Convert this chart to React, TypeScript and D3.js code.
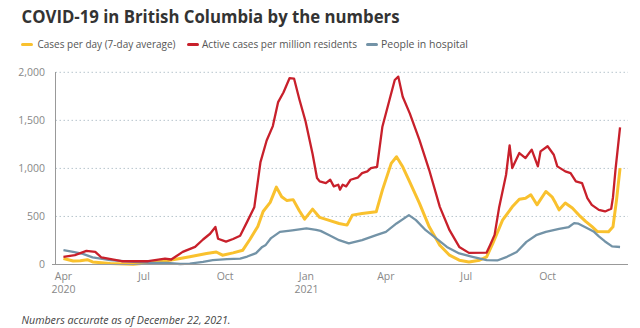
import React from "react";
import * as d3 from "d3";

const casesPerDay: [string, number][] = [
  ["2020-04-01", 62], ["2020-04-12", 36], ["2020-04-20", 40], ["2020-04-28", 50], ["2020-05-04", 27],
  ["2020-05-24", 10], ["2020-06-19", 3], ["2020-07-08", 17], ["2020-07-27", 38], ["2020-08-11", 62],
  ["2020-08-22", 80], ["2020-09-10", 115], ["2020-09-21", 130], ["2020-09-28", 97], ["2020-10-10", 121],
  ["2020-10-21", 149], ["2020-10-29", 260], ["2020-11-07", 396], ["2020-11-13", 552], ["2020-11-21", 646],
  ["2020-11-28", 805], ["2020-12-04", 705], ["2020-12-10", 665], ["2020-12-17", 675], ["2020-12-24", 560],
  ["2020-12-30", 472], ["2021-01-08", 576], ["2021-01-16", 490], ["2021-01-25", 465], ["2021-02-07", 427],
  ["2021-02-16", 410], ["2021-02-22", 514], ["2021-03-05", 531], ["2021-03-21", 548], ["2021-03-28", 774],
  ["2021-04-07", 1052], ["2021-04-13", 1121], ["2021-04-20", 1017], ["2021-04-27", 878], ["2021-05-09", 636],
  ["2021-05-20", 392], ["2021-06-01", 201], ["2021-06-12", 97], ["2021-06-23", 45], ["2021-07-04", 27],
  ["2021-07-16", 45], ["2021-07-24", 80], ["2021-07-31", 219], ["2021-08-11", 462], ["2021-08-22", 600],
  ["2021-08-30", 680], ["2021-09-06", 690], ["2021-09-12", 725], ["2021-09-19", 621], ["2021-09-29", 760],
  ["2021-10-06", 704], ["2021-10-10", 639], ["2021-10-14", 569], ["2021-10-21", 639], ["2021-10-29", 587],
  ["2021-11-07", 500], ["2021-11-13", 448], ["2021-11-20", 396], ["2021-11-26", 344], ["2021-12-09", 340],
  ["2021-12-14", 392], ["2021-12-18", 670], ["2021-12-22", 1003],
];

const activePerMillion: [string, number][] = [
  ["2020-04-01", 80], ["2020-04-14", 97], ["2020-04-27", 142], ["2020-05-07", 131], ["2020-05-14", 73],
  ["2020-06-06", 34], ["2020-07-06", 34], ["2020-07-25", 62], ["2020-08-01", 52], ["2020-08-14", 131],
  ["2020-08-28", 183], ["2020-09-06", 260], ["2020-09-14", 320], ["2020-09-20", 390], ["2020-09-23", 268],
  ["2020-10-02", 238], ["2020-10-10", 265], ["2020-10-18", 300], ["2020-10-26", 446], ["2020-11-03", 595],
  ["2020-11-10", 1065], ["2020-11-17", 1290], ["2020-11-24", 1440], ["2020-11-30", 1690], ["2020-12-06", 1790],
  ["2020-12-13", 1940], ["2020-12-18", 1935], ["2020-12-24", 1720], ["2020-12-31", 1490], ["2021-01-08", 1150],
  ["2021-01-13", 900], ["2021-01-16", 865], ["2021-01-23", 847], ["2021-01-28", 882], ["2021-02-01", 813],
  ["2021-02-06", 830], ["2021-02-08", 778], ["2021-02-11", 830], ["2021-02-15", 813], ["2021-02-20", 882],
  ["2021-02-28", 903], ["2021-03-05", 951], ["2021-03-11", 969], ["2021-03-15", 1003], ["2021-03-22", 1017],
  ["2021-03-28", 1434], ["2021-04-05", 1712], ["2021-04-11", 1920],
  ["2021-04-15", 1955], ["2021-04-20", 1746], ["2021-04-28", 1573], ["2021-05-09", 1295], ["2021-05-20", 983],
  ["2021-06-01", 600], ["2021-06-12", 357], ["2021-06-23", 183], ["2021-07-04", 121], ["2021-07-24", 124],
  ["2021-07-28", 204], ["2021-08-02", 308], ["2021-08-07", 587], ["2021-08-15", 934], ["2021-08-19", 1240],
  ["2021-08-22", 1003], ["2021-08-30", 1160], ["2021-09-06", 1108], ["2021-09-13", 1195], ["2021-09-20", 1021],
  ["2021-09-23", 1177], ["2021-10-01", 1230], ["2021-10-08", 1142], ["2021-10-12", 1021], ["2021-10-21", 969],
  ["2021-10-27", 951], ["2021-11-02", 865], ["2021-11-09", 847], ["2021-11-15", 691], ["2021-11-20", 621],
  ["2021-11-28", 569], ["2021-12-05", 552], ["2021-12-12", 580], ["2021-12-14", 700], ["2021-12-17", 1000],
  ["2021-12-22", 1427],
];

const inHospital: [string, number][] = [
  ["2020-04-01", 149], ["2020-04-12", 131], ["2020-04-23", 110], ["2020-05-04", 75], ["2020-05-24", 45],
  ["2020-06-19", 27], ["2020-07-08", 17], ["2020-07-27", 17], ["2020-08-11", 5], ["2020-08-22", 10],
  ["2020-09-06", 27], ["2020-09-17", 45], ["2020-10-03", 55], ["2020-10-18", 62], ["2020-10-26", 83],
  ["2020-11-05", 118], ["2020-11-12", 183], ["2020-11-16", 204], ["2020-11-22", 275], ["2020-12-02", 340],
  ["2020-12-16", 355], ["2021-01-01", 375], ["2021-01-12", 361], ["2021-01-17", 350], ["2021-01-27", 305],
  ["2021-02-07", 253], ["2021-02-18", 219], ["2021-03-05", 253], ["2021-03-21", 305], ["2021-04-01", 340],
  ["2021-04-13", 427], ["2021-04-27", 514], ["2021-05-05", 462], ["2021-05-16", 357], ["2021-05-28", 271],
  ["2021-06-09", 183], ["2021-06-23", 115], ["2021-07-08", 80], ["2021-07-24", 45], ["2021-08-05", 42],
  ["2021-08-16", 80], ["2021-08-27", 130], ["2021-09-07", 235], ["2021-09-18", 305], ["2021-09-29", 340],
  ["2021-10-14", 370], ["2021-10-25", 390], ["2021-10-31", 430], ["2021-11-05", 425], ["2021-11-15", 378],
  ["2021-11-22", 344], ["2021-11-28", 292], ["2021-12-05", 240], ["2021-12-13", 188], ["2021-12-22", 182],
];

const yTicks = [0, 500, 1000, 1500, 2000];
const xTicks: [string, string, string][] = [
  ["2020-04-01", "Apr", "2020"], ["2020-07-01", "Jul", ""], ["2020-10-01", "Oct", ""],
  ["2021-01-01", "Jan", "2021"], ["2021-04-01", "Apr", ""], ["2021-07-01", "Jul", ""],
  ["2021-10-01", "Oct", ""],
];

const seriesNames = ["Cases per day (7-day average)", "Active cases per million residents", "People in hospital"];
const seriesColors = ["#f9c12e", "#c8202b", "#7393a7"];

const parse = d3.timeParse("%Y-%m-%d");
const FONT = "'Open Sans', 'DejaVu Sans', sans-serif";

export default function App() {
  const x = d3.scaleTime()
    .domain([parse("2020-03-23")!, parse("2021-12-31")!])
    .range([55.5, 628]);
  const y = d3.scaleLinear().domain([0, 2000]).range([264.5, 72.3]);
  const line = d3.line<[string, number]>()
    .x((d) => x(parse(d[0])!))
    .y((d) => y(d[1]));

  const legendX = [21, 187, 366];
  const legendTextX = [37.5, 202, 381];
  const legendLen = [138, 155, 87];

  return (
    <svg width={640} height={328} style={{ position: "absolute", left: 0, top: 0, background: "#fff" }}
      fontFamily={FONT}>
      <text x={21.5} y={22.7} fontSize={18} fontWeight={700} fill="#333"
        textLength={378} lengthAdjust="spacingAndGlyphs">COVID-19 in British Columbia by the numbers</text>
      {seriesNames.map((n, i) => (
        <g key={n}>
          <rect x={legendX[i]} y={43} width={12} height={3} rx={1.5} fill={seriesColors[i]} />
          <text x={legendTextX[i]} y={48} fontSize={11} fill="#555"
            textLength={legendLen[i]} lengthAdjust="spacingAndGlyphs">{n}</text>
        </g>
      ))}
      {yTicks.filter((t) => t > 0).map((t) => (
        <line key={t} x1={55.5} x2={628} y1={y(t)} y2={y(t)} stroke="#b7c5cd"
          strokeWidth={1} strokeDasharray="1.5,2.5" />
      ))}
      {yTicks.map((t) => (
        <text key={"yl" + t} x={45} y={y(t) + 3.7} fontSize={10.5} fill="#888" textAnchor="end">
          {d3.format(",")(t)}
        </text>
      ))}
      {xTicks.map(([d, m, yr]) => (
        <g key={d}>
          <text x={x(parse(d)!)} y={280} fontSize={10.5} fill="#888" textAnchor="middle">{m}</text>
          {yr && <text x={x(parse(d)!)} y={292.5} fontSize={10.5} fill="#888" textAnchor="middle">{yr}</text>}
        </g>
      ))}
      <line x1={55.5} x2={55.5} y1={72} y2={264.5} stroke="#999" strokeWidth={1} />
      <path d={line(casesPerDay) || ""} fill="none" stroke={seriesColors[0]} strokeWidth={3} strokeLinejoin="round" />
      <path d={line(inHospital) || ""} fill="none" stroke={seriesColors[2]} strokeWidth={2.3} strokeLinejoin="round" />
      <path d={line(activePerMillion) || ""} fill="none" stroke={seriesColors[1]} strokeWidth={2.3} strokeLinejoin="round" />
      <line x1={52} x2={628} y1={264.5} y2={264.5} stroke="#999" strokeWidth={1.2} />
      <text x={21.5} y={324} fontSize={10.5} fontStyle="italic" fill="#444"
        textLength={209} lengthAdjust="spacingAndGlyphs">Numbers accurate as of December 22, 2021.</text>
    </svg>
  );
}
